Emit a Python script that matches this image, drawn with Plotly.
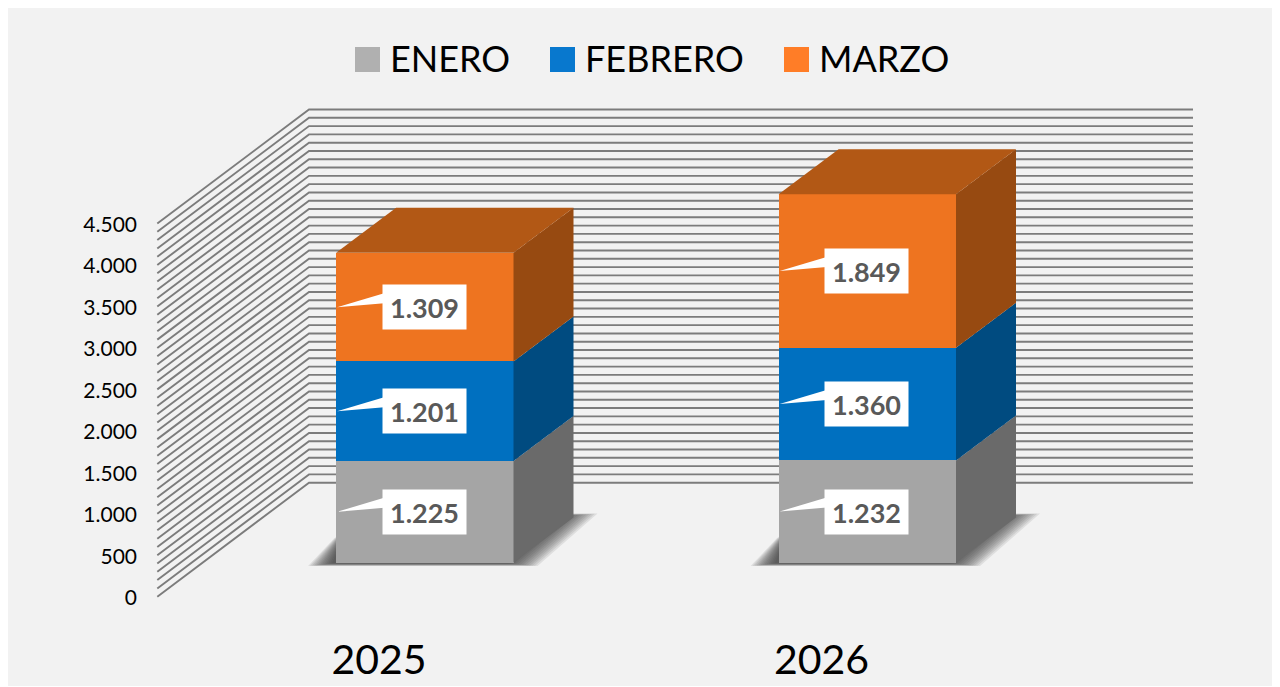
import plotly.graph_objects as go

years = ["2025", "2026"]
series_names = ["ENERO", "FEBRERO", "MARZO"]
enero = [1225, 1232]
febrero = [1201, 1360]
marzo = [1309, 1849]
series_values = [enero, febrero, marzo]
value_ticks = [0, 500, 1000, 1500, 2000, 2500, 3000, 3500, 4000, 4500]
minor_grid = list(range(0, 4600, 100))

front_colors = ["#A5A5A5", "#0070C0", "#EE7420"]
side_colors = ["#6A6A6A", "#004B80", "#974A11"]
top_color = "#B25815"
swatch_colors = ["#B0B0B0", "#0878CE", "#FF7D27"]
FONT = "Lato"

# figure frame in page pixels
W, H, OX, OY = 1272, 678, 8, 8
PX_PER_CAT = 442.5
PX_PER_VAL = 0.08293
BAR_CX = 424.8     # page x of the first bar's centre
BAR_Y0 = 562.6     # page y of the bars' zero
AXIS_CX = 379.0    # page x of the first category label
AXIS_Y0 = 596.7    # page y of the value axis' zero
BAR_W = 177.4 / PX_PER_CAT
DX = 60 / PX_PER_CAT
DY = 45 / PX_PER_VAL
WALL_DX = 151.7 / PX_PER_CAT
WALL_DY = 114 / PX_PER_VAL
SHIFT_X = (BAR_CX - AXIS_CX) / PX_PER_CAT
SHIFT_Y = (AXIS_Y0 - BAR_Y0) / PX_PER_VAL


def xrange_for(cx):
    return [(OX - cx) / PX_PER_CAT, (OX + W - cx) / PX_PER_CAT]


def yrange_for(y0):
    return [(y0 - (OY + H)) / PX_PER_VAL, (y0 - OY) / PX_PER_VAL]


fig = go.Figure()


def poly(xs, ys, color, axes=("x2", "y2")):
    fig.add_trace(go.Scatter(x=xs, y=ys, mode="lines", fill="toself", fillcolor=color,
                             line=dict(width=0), hoverinfo="skip", showlegend=False,
                             xaxis=axes[0], yaxis=axes[1]))


# wall grid on the main (value) axes
wall_left = (157.3 - AXIS_CX) / PX_PER_CAT
wall_back = wall_left + WALL_DX
wall_right = (1193 - AXIS_CX) / PX_PER_CAT
gx, gy = [], []
for v in minor_grid:
    gx += [wall_left, wall_back, wall_right, None]
    gy += [v, v + WALL_DY, v + WALL_DY, None]
fig.add_trace(go.Scatter(x=gx, y=gy, mode="lines", line=dict(color="#7C7C7C", width=1.9),
                         hoverinfo="skip", showlegend=False, xaxis="x", yaxis="y"))

# soft floor shadows, on the main axes so they stay under the bars
PX = 1 / PX_PER_CAT
PY = 1 / PX_PER_VAL
for i in range(len(years)):
    L, R = i - BAR_W / 2 + SHIFT_X, i + BAR_W / 2 + SHIFT_X
    for k in range(0, 25, 2):
        floor = SHIFT_Y + (-3.5 + 0.12 * k) * PY
        top = SHIFT_Y + (49 - 0.1 * k) * PY
        poly([L + (-28 + k) * PX, R + (24 - 1.2 * k) * PX, R + (84 - 1.4 * k) * PX, R + 30 * PX,
              L + 30 * PX, L + (-2 + 0.3 * k) * PX],
             [floor, floor, top, top, top, SHIFT_Y + (24 - 0.1 * k) * PY],
             "rgba(50,50,50,0.10)", axes=("x", "y"))

# stacked fronts through the bar scale
for name, vals, col in zip(series_names, series_values, front_colors):
    fig.add_trace(go.Bar(x=[0, 1], y=vals, name=name, width=BAR_W, marker=dict(color=col, line=dict(width=0)),
                         xaxis="x2", yaxis="y2", showlegend=False, hoverinfo="skip"))
fig.update_layout(barmode="stack")

# side and top faces
for i in range(len(years)):
    R = i + BAR_W / 2
    L = i - BAR_W / 2
    base = 0
    for vals, col in zip(series_values, side_colors):
        t = base + vals[i]
        poly([R, R + DX, R + DX, R], [base, base + DY, t + DY, t], col)
        base = t
    poly([L, R, R + DX, L + DX], [base, base, base + DY, base + DY], top_color)

# data labels with callout wedges
annotations = []
for i in range(len(years)):
    L = i - BAR_W / 2
    base = 0
    for vals in series_values:
        mid = base + vals[i] / 2
        poly([L + 1 / PX_PER_CAT, L + 48 / PX_PER_CAT, L + 48 / PX_PER_CAT],
             [mid, mid + 14 / PX_PER_VAL, mid + 4 / PX_PER_VAL], "#FFFFFF")
        annotations.append(dict(x=i, y=mid, xref="x2", yref="y2", yshift=0, xshift=-i,
                                text=f"{vals[i]:,}".replace(",", "."),
                                showarrow=False, bgcolor="#FFFFFF", width=83, height=44, borderpad=0,
                                xanchor="center", yanchor="middle", valign="middle",
                                font=dict(family=FONT, size=27, color="#595959", weight="bold")))
        base += vals[i]

# legend built at the reference's swatch size
shapes = []
legend_x = [355, 550, 784]
for name, col, lx in zip(series_names, swatch_colors, legend_x):
    shapes.append(dict(type="rect", xref="paper", yref="paper",
                       x0=(lx - OX) / W, x1=(lx + 25 - OX) / W,
                       y0=1 - (72 - OY) / H, y1=1 - (47 - OY) / H,
                       fillcolor=col, line=dict(width=0)))
    annotations.append(dict(x=(lx + 33 - OX) / W, y=1 - (58 - OY) / H, xref="paper", yref="paper",
                            text=name, showarrow=False, xanchor="left", yanchor="middle",
                            font=dict(family=FONT, size=36, color="#000000")))

fig.update_layout(
    width=W, height=H, margin=dict(l=0, r=0, t=0, b=0, pad=0),
    paper_bgcolor="#F2F2F2", plot_bgcolor="#F2F2F2", separators=",.", showlegend=False,
    annotations=annotations, shapes=shapes,
    xaxis=dict(range=xrange_for(AXIS_CX), tickmode="array", tickvals=[0, 1], ticktext=years,
               anchor="free", position=(OY + H - 632) / H, showgrid=False, zeroline=False, showline=False,
               ticks="", tickfont=dict(family=FONT, size=41, color="#000000")),
    yaxis=dict(range=yrange_for(AXIS_Y0), tickmode="array", tickvals=value_ticks, tickformat=",d",
               anchor="free", position=(137 - OX) / W, showgrid=False, zeroline=False, showline=False,
               ticks="", ticklabelshift=1, tickfont=dict(family=FONT, size=21, color="#000000")),
    xaxis2=dict(range=xrange_for(BAR_CX), overlaying="x", visible=False),
    yaxis2=dict(range=yrange_for(BAR_Y0), overlaying="y", visible=False),
)

fig.write_html("out.html", config={"displayModeBar": False},
               post_script="document.documentElement.style.overflow='hidden';")
